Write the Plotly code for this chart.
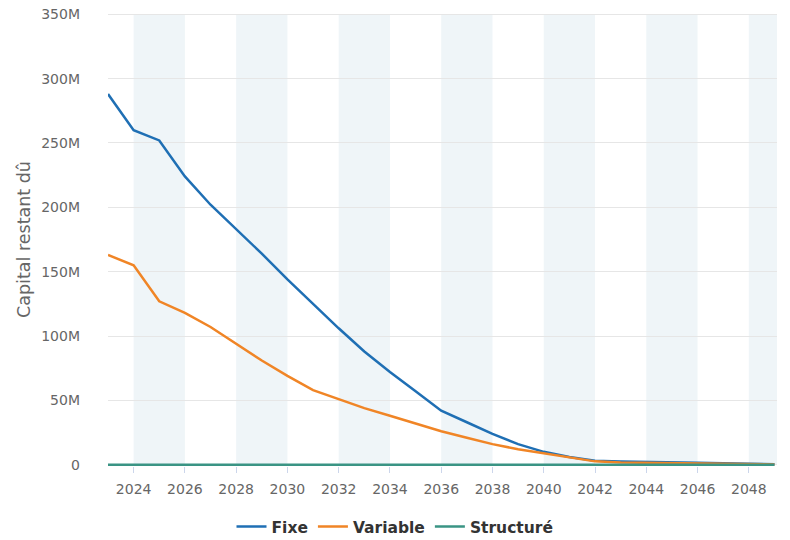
import plotly.graph_objects as go

years = list(range(2023, 2050))
fixe_m = [288, 260, 252, 224, 202, 183, 164, 144, 125, 106, 88, 72, 57, 42, 33, 24, 16,
          10, 6, 3, 2.5, 2, 1.8, 1.5, 1.2, 0.8, 0.3]
variable_m = [163, 155, 127, 118, 107, 94, 81, 69, 58, 51, 44, 38, 32, 26, 21, 16, 12,
              9, 5.5, 2.6, 1.8, 1.5, 1.2, 1.0, 0.8, 0.5, 0.2]
structure_m = [0] * 27
series_names = ["Fixe", "Variable", "Structuré"]
series_colors = ["#1f6fb4", "#f08526", "#3a9484"]
band_starts = [2024, 2028, 2032, 2036, 2040, 2044, 2048]
y_ticks = [0, 50e6, 100e6, 150e6, 200e6, 250e6, 300e6, 350e6]

FONT = "DejaVu Sans"

fig = go.Figure()
for name, vals, col in zip(series_names, [fixe_m, variable_m, structure_m], series_colors):
    fig.add_trace(go.Scatter(
        x=years, y=[v * 1e6 for v in vals], name=name, mode="lines",
        line=dict(color=col, width=2.5),
        hovertemplate="%{x}: %{y:.3s}<extra>" + name + "</extra>",
    ))

shapes = []
for s in band_starts:
    shapes.append(dict(type="rect", xref="x", yref="y", x0=s, x1=min(s + 2, 2049.1),
                       y0=0, y1=350e6, fillcolor="#eff5f8", line=dict(width=0), layer="below"))

fig.update_layout(
    width=790, height=540,
    margin=dict(l=107.5, r=13, t=13, b=74.3, autoexpand=False),
    plot_bgcolor="white", paper_bgcolor="white",
    font=dict(family=FONT, color="#666666", size=14),
    shapes=shapes,
    showlegend=True,
    legend=dict(orientation="h", xref="container", yref="container", x=0.5, y=0.024,
                xanchor="center", yanchor="middle",
                font=dict(family=FONT, size=15.5, color="#333333", weight="bold"),
                itemwidth=30, tracegroupgap=0),
    xaxis=dict(range=[2023, 2049.1], tickvals=list(range(2024, 2050, 2)),
               showgrid=False, zeroline=False, showline=False, automargin=False,
               ticks="outside", ticklen=6, tickcolor="#ccd6eb", tickwidth=1,
               tickfont=dict(size=14, color="#666666"), ticklabelstandoff=4),
    yaxis=dict(range=[-1e6, 351e6], tickvals=y_ticks, tickformat="~s",
               showgrid=True, gridcolor="#e6e6e6", gridwidth=1, zeroline=False,
               showline=False, ticks="", automargin=False,
               ticklabeloverflow="allow",
               tickfont=dict(size=14, color="#666666"),
               ticklabelstandoff=27,
               title=dict(text="Capital restant dû", font=dict(size=17.5, color="#666666"),
                          standoff=6)),
)

# remove the page's default body margin so the 790x540 figure fills the window
fig.write_html("out.html", config={"displayModeBar": False},
               post_script="document.body.style.margin='0';")
